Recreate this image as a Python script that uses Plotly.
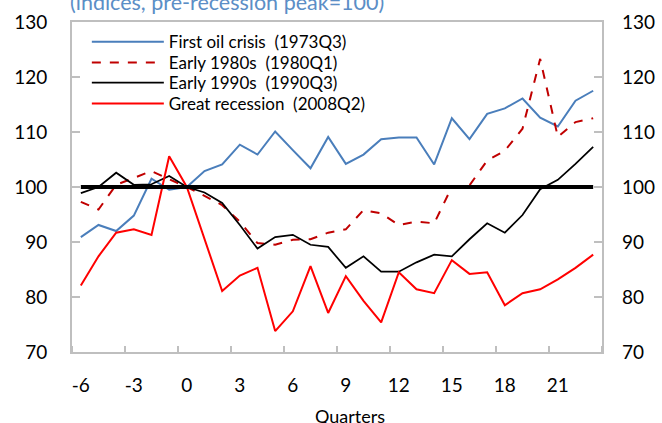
import plotly.graph_objects as go

quarters = list(range(-6, 24))

first_oil = [90.9, 93.1, 92.0, 94.8, 101.5, 99.5, 100.0, 102.9, 104.1, 107.7,
             105.9, 110.1, 106.7, 103.4, 109.1, 104.2, 105.9, 108.7, 109.0, 109.0,
             104.1, 112.5, 108.7, 113.3, 114.3, 116.1, 112.6, 111.0, 115.7, 117.5]

early_1980s = [97.3, 95.9, 100.4, 101.6, 102.9, 101.4, 100.0, 98.4, 96.7, 93.7,
               89.8, 89.5, 90.4, 90.5, 91.7, 92.3, 95.8, 95.2, 93.1, 93.7,
               93.4, 100.0, 100.3, 104.8, 106.6, 110.6, 123.3, 109.1, 111.8, 112.5]

early_1990s = [98.9, 100.0, 102.6, 100.4, 100.5, 102.0, 100.0, 99.0, 97.1, 93.1,
               88.8, 90.9, 91.3, 89.5, 89.1, 85.3, 87.4, 84.6, 84.6, 86.3,
               87.7, 87.4, 90.5, 93.4, 91.7, 94.9, 99.6, 101.3, 104.2, 107.3]

great_recession = [82.1, 87.4, 91.7, 92.3, 91.3, 105.6, 100.0, 90.5, 81.1, 83.9,
                   85.3, 73.8, 77.4, 85.6, 77.1, 83.8, 79.3, 75.4, 84.5, 81.4,
                   80.7, 86.7, 84.2, 84.5, 78.5, 80.7, 81.4, 83.2, 85.3, 87.7]

baseline = [100] * len(quarters)

x_tick_vals = list(range(-6, 22, 3))
x_tick_text = [str(v) for v in x_tick_vals]
y_tick_vals = [70, 80, 90, 100, 110, 120, 130]

series_names = ["First oil crisis  (1973Q3)", "Early 1980s  (1980Q1)",
                "Early 1990s  (1990Q3)", "Great recession  (2008Q2)"]

FONT = "Lato"
GRAY = "#BFBFBF"

fig = go.Figure()
fig.add_trace(go.Scatter(x=quarters, y=first_oil, mode="lines", name=series_names[0],
                         legend="legend",
                         line=dict(color="#4A7EBB", width=2)))
fig.add_trace(go.Scatter(x=quarters, y=early_1980s, mode="lines", name=series_names[1],
                         legend="legend2",
                         line=dict(color="#C00000", width=2, dash="dash")))
fig.add_trace(go.Scatter(x=quarters, y=early_1990s, mode="lines", name=series_names[2],
                         legend="legend3",
                         line=dict(color="#000000", width=1.75)))
fig.add_trace(go.Scatter(x=quarters, y=great_recession, mode="lines", name=series_names[3],
                         legend="legend4",
                         line=dict(color="#FF0000", width=2)))
fig.add_trace(go.Scatter(x=quarters, y=baseline, mode="lines", showlegend=False,
                         yaxis="y2", line=dict(color="#000000", width=4), hoverinfo="skip"))

legend_common = dict(x=0.028, xanchor="left", yanchor="middle",
                     bgcolor="rgba(0,0,0,0)", font=dict(size=17, family=FONT),
                     itemwidth=72)

fig.update_layout(
    template="none",
    width=662, height=423,
    margin=dict(l=72, r=60, t=22, b=71, autoexpand=False),
    paper_bgcolor="white", plot_bgcolor="white",
    font=dict(family=FONT, color="#000000", size=19),
    xaxis=dict(range=[-6.5, 23.5], tickvals=x_tick_vals, ticktext=x_tick_text,
               ticks="", showgrid=False, zeroline=False, automargin=False,
               showline=True, linecolor=GRAY, linewidth=2, mirror=True,
               ticklabelstandoff=15,
               minor=dict(ticks="inside", tick0=-6.5, dtick=3, ticklen=6,
                          tickcolor=GRAY, tickwidth=1.5, showgrid=False),
               tickfont=dict(size=19, color="#000000")),
    yaxis=dict(range=[70, 130], tickvals=y_tick_vals, ticks="inside", ticklen=8,
               tickcolor=GRAY, tickwidth=1.5, showgrid=False, zeroline=False,
               automargin=False,
               showline=True, linecolor=GRAY, linewidth=2, mirror=True,
               ticklabelstandoff=19, tickfont=dict(size=19, color="#000000")),
    yaxis2=dict(range=[70, 130], tickvals=y_tick_vals, ticks="inside", ticklen=8,
                tickcolor=GRAY, tickwidth=1.5, showgrid=False, zeroline=False,
                automargin=False,
                overlaying="y", side="right", showline=False,
                ticklabelstandoff=19, tickfont=dict(size=19, color="#000000")),
    legend=dict(y=0.939, **legend_common),
    legend2=dict(y=0.876, **legend_common),
    legend3=dict(y=0.815, **legend_common),
    legend4=dict(y=0.752, **legend_common),
    showlegend=True,
)

fig.add_annotation(text="(indices, pre-recession peak=100)", xref="paper", yref="paper",
                   x=-0.008, y=1.062, xanchor="left", yanchor="middle", showarrow=False,
                   font=dict(size=21.5, color="#5B8EC6", family=FONT))
fig.add_annotation(text="Quarters", xref="paper", yref="paper",
                   x=0.5245, y=-0.1545, xanchor="center", yanchor="top", showarrow=False,
                   font=dict(size=18, color="#000000", family=FONT))

fig.write_html("out.html", config={"displayModeBar": False},
               post_script="document.body.style.margin='0';")
